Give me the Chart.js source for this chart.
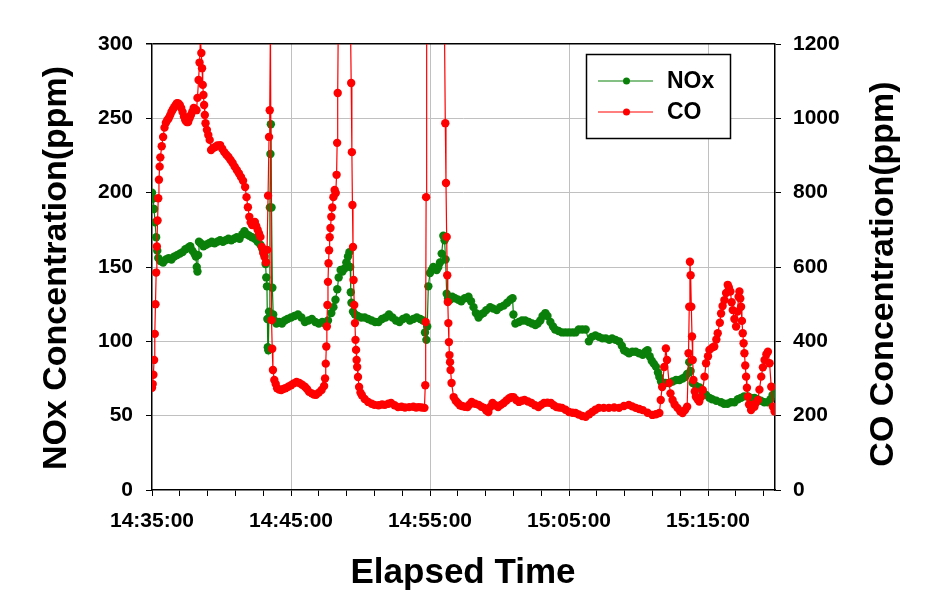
<!DOCTYPE html>
<html>
<head>
<meta charset="utf-8">
<script src="https://cdn.jsdelivr.net/npm/chart.js@4.4.1/dist/chart.umd.min.js"></script>
<style>
  html, body { margin: 0; padding: 0; background: #fff; }
  #wrap { width: 929px; height: 606px; }
</style>
</head>
<body>
<div id="wrap"><canvas id="emissionChart" width="929" height="606"></canvas></div>
<script>
// --- Data (time in minutes after 14:35:00) ---
const xTickLabels = ['14:35:00', '14:45:00', '14:55:00', '15:05:00', '15:15:00'];
const seriesNames = ['NOx', 'CO'];

const noxTime = [0,0.08,0.15,0.22,0.3,0.38,0.45,0.6,0.8,1.0,1.2,1.4,1.6,1.8,2.0,2.2,2.4,2.6,2.75,2.9,3.05,3.15,3.22,3.27,3.32,3.38,3.5,3.7,3.9,4.1,4.3,4.5,4.7,4.9,5.1,5.3,5.5,5.7,5.9,6.1,6.3,6.5,6.65,6.8,7.0,7.2,7.4,7.6,7.8,7.95,8.08,8.17,8.22,8.27,8.3,8.33,8.37,8.42,8.48,8.52,8.55,8.6,8.66,8.72,8.8,8.95,9.15,9.35,9.55,9.75,10.0,10.25,10.5,10.75,11.0,11.25,11.5,11.75,12.0,12.25,12.45,12.66,12.9,13.05,13.2,13.33,13.43,13.57,13.7,13.85,13.98,14.1,14.2,14.26,14.3,14.35,14.46,14.6,14.8,15.05,15.3,15.55,15.8,16.05,16.3,16.55,16.8,17.05,17.3,17.55,17.8,18.05,18.3,18.55,18.8,19.05,19.3,19.5,19.64,19.74,19.8,19.88,20.0,20.12,20.24,20.36,20.48,20.6,20.72,20.84,20.96,21.05,21.12,21.2,21.3,21.44,21.6,21.8,22.04,22.25,22.5,22.77,22.95,23.13,23.3,23.49,23.65,23.85,24.05,24.33,24.55,24.8,25.05,25.3,25.55,25.78,25.94,26.0,26.14,26.4,26.62,26.85,27.1,27.35,27.58,27.75,27.94,28.1,28.3,28.45,28.66,28.85,29.0,29.25,29.5,29.75,30.0,30.25,30.47,30.7,30.95,31.2,31.43,31.65,31.9,32.15,32.4,32.65,32.9,33.1,33.35,33.6,33.8,33.96,34.15,34.32,34.55,34.8,35.05,35.3,35.5,35.65,35.8,35.95,36.1,36.25,36.4,36.5,36.62,36.73,36.95,37.2,37.45,37.7,37.95,38.17,38.35,38.5,38.65,38.75,38.9,39.15,39.4,39.62,39.86,40.1,40.3,40.6,40.94,41.15,41.4,41.65,41.9,42.15,42.38,42.6,42.87,43.1,43.34,43.55,43.8,44.05,44.3,44.5,44.65,44.8];
const noxValue = [200,196,189,180,170,161,156,154,153,155,156,155,157,158,159,160,162,163,164,161,159,157,150,147,158,167,166,164,165,166,167,166,167,168,167,168,169,168,169,170,169,172,174,172,171,170,169,167,165,162,158,152,143,137,115,96,94,120,190,226,246,190,136,118,114,112,113,112,114,115,116,117,118,116,113,114,115,113,112,113,112,114,119,123,128,135,143,148,147,149,153,157,160,150,133,126,120,118,117,116,116,115,114,113,113,115,116,118,116,114,113,115,116,114,115,116,115,114,106,101,110,137,146,148,150,149,148,150,153,159,171,168,155,132,129,128,130,129,128,127,129,130,127,123,119,116,118,119,121,123,122,121,123,124,126,128,129,118,112,113,114,114,113,112,111,112,114,117,119,117,113,110,108,107,106,106,106,106,106,108,108,108,100,103,104,103,102,102,101,102,101,100,97,94,93,92,93,93,92,91,93,94,90,87,85,83,79,76,73,72,72,72,73,74,74,75,76,78,86,80,72,70,69,66,64,62,61,60,59,58,58,59,59,61,62,63,63,62,62,61,60,59,59,61,64,69];

const coTime = [0,0.05,0.1,0.15,0.2,0.25,0.3,0.35,0.4,0.45,0.5,0.55,0.6,0.7,0.8,0.9,1.0,1.1,1.2,1.3,1.4,1.5,1.6,1.7,1.8,1.9,2.0,2.1,2.2,2.3,2.4,2.5,2.6,2.7,2.8,2.9,3.0,3.1,3.2,3.27,3.35,3.42,3.48,3.55,3.6,3.65,3.7,3.75,3.8,3.85,3.95,4.05,4.15,4.25,4.4,4.55,4.7,4.9,5.05,5.2,5.35,5.5,5.65,5.8,5.95,6.1,6.25,6.4,6.55,6.7,6.8,6.9,7.0,7.1,7.2,7.3,7.4,7.5,7.6,7.7,7.8,7.9,8.0,8.1,8.2,8.28,8.35,8.42,8.47,8.52,8.6,8.65,8.7,8.8,8.9,9.0,9.15,9.3,9.45,9.6,9.8,10.0,10.2,10.4,10.6,10.8,11.0,11.15,11.3,11.5,11.65,11.8,12.0,12.2,12.38,12.45,12.5,12.54,12.58,12.62,12.66,12.7,12.74,12.78,12.84,12.9,12.97,13.05,13.14,13.22,13.28,13.32,13.36,13.4,13.7,14.0,14.28,14.33,14.38,14.42,14.46,14.5,14.55,14.6,14.64,14.68,14.72,14.76,14.82,14.9,15.0,15.1,15.3,15.55,15.8,16.0,16.3,16.55,16.75,17.0,17.2,17.45,17.7,17.95,18.2,18.5,18.8,19.0,19.2,19.4,19.6,19.66,19.69,19.72,19.76,20.4,21.04,21.1,21.15,21.2,21.24,21.28,21.32,21.36,21.4,21.44,21.48,21.55,21.7,21.85,22.0,22.15,22.3,22.5,22.7,22.85,23.0,23.25,23.5,23.7,23.9,24.05,24.2,24.35,24.5,24.7,24.9,25.1,25.3,25.5,25.7,25.85,26.0,26.2,26.4,26.6,26.8,27.05,27.3,27.55,27.8,28.0,28.2,28.45,28.7,28.9,29.1,29.3,29.5,29.75,30.0,30.25,30.47,30.7,30.95,31.2,31.45,31.67,31.9,32.15,32.5,32.87,33.25,33.6,33.95,34.3,34.55,34.8,35.05,35.3,35.65,36.0,36.25,36.5,36.6,36.7,36.85,36.97,37.05,37.2,37.3,37.45,37.6,37.8,38.0,38.17,38.35,38.5,38.6,38.65,38.7,38.75,38.8,38.85,38.9,38.95,39.05,39.13,39.25,39.37,39.5,39.62,39.75,39.86,40.0,40.1,40.3,40.45,40.6,40.7,40.85,40.94,41.05,41.18,41.3,41.42,41.5,41.61,41.7,41.78,41.9,42.02,42.12,42.2,42.26,42.32,42.38,42.44,42.5,42.56,42.62,42.68,42.74,42.8,42.87,42.95,43.1,43.22,43.34,43.45,43.59,43.7,43.83,43.95,44.07,44.2,44.31,44.43,44.55,44.67,44.79];
const coValue = [275,285,310,350,420,500,585,655,725,785,835,870,895,925,950,975,988,995,1000,1008,1017,1024,1030,1036,1041,1040,1036,1028,1017,1005,995,990,990,1000,1009,1018,1028,1025,1022,1055,1103,1150,1210,1176,1135,1090,1063,1036,1009,987,969,955,942,915,920,923,927,928,918,909,902,896,888,880,870,861,852,842,832,815,788,761,735,720,713,718,721,710,700,690,681,654,638,627,613,646,792,950,1022,1250,457,380,323,296,285,274,270,269,272,274,278,282,287,291,288,283,278,272,264,260,257,256,262,269,280,300,340,386,440,498,560,610,645,680,705,735,760,788,807,799,848,934,1068,1250,1500,1500,1250,1095,909,767,654,565,498,449,404,377,350,331,304,277,262,255,245,237,232,229,228,230,229,232,234,228,223,224,222,223,224,222,223,222,221,282,452,788,1250,1500,1250,987,826,681,578,506,449,398,363,344,323,288,250,240,234,228,226,224,223,230,237,232,229,224,221,214,210,224,234,228,223,229,234,241,247,250,250,242,237,240,242,238,234,228,223,229,234,235,234,228,223,222,221,216,210,208,207,203,199,197,204,210,216,221,221,221,222,221,226,229,225,221,218,215,208,202,204,207,242,277,331,381,350,288,260,242,230,221,212,207,215,224,368,493,614,578,493,413,350,296,265,251,244,238,250,269,305,341,360,377,383,386,405,422,450,475,495,511,530,552,545,534,505,484,460,440,480,520,534,515,493,455,422,395,368,335,305,275,251,230,215,228,224,235,242,270,305,330,350,365,372,341,278,224,211];

const noxColor = '#0a800a';
const coColor = '#ff0000';
const fontFamily = 'Arial, "Liberation Sans", sans-serif';

function toPoints(times, values) {
  return times.map((t, i) => ({ x: t, y: values[i] }));
}

// --- Titles and in-plot legend ---
const decorPlugin = {
  id: 'decor',
  afterDraw(chart) {
    const ctx = chart.ctx;
    ctx.save();
    ctx.fillStyle = '#000';
    ctx.textAlign = 'center';
    ctx.textBaseline = 'middle';
    ctx.font = 'bold 34px ' + fontFamily;

    ctx.save();
    ctx.translate(57, 268);
    ctx.rotate(-Math.PI / 2);
    ctx.fillText('NOx Concentration(ppm)', 0, 0);
    ctx.restore();

    ctx.save();
    ctx.translate(884, 274);
    ctx.rotate(-Math.PI / 2);
    ctx.fillText('CO Concentration(ppm)', 0, 0);
    ctx.restore();

    ctx.font = 'bold 35px ' + fontFamily;
    ctx.fillText('Elapsed Time', 463, 573);

    // legend box
    ctx.fillStyle = '#fff';
    ctx.fillRect(586.5, 54.5, 144, 84);
    ctx.strokeStyle = '#000';
    ctx.lineWidth = 1.5;
    ctx.strokeRect(586.5, 54.5, 144, 84);
    const rows = [[seriesNames[0], noxColor, 81], [seriesNames[1], coColor, 112]];
    rows.forEach(([name, color, y]) => {
      ctx.strokeStyle = color;
      ctx.lineWidth = 1.2;
      ctx.beginPath();
      ctx.moveTo(598, y);
      ctx.lineTo(653, y);
      ctx.stroke();
      ctx.fillStyle = color;
      ctx.beginPath();
      ctx.arc(626.5, y, 3.5, 0, Math.PI * 2);
      ctx.fill();
      ctx.fillStyle = '#000';
      ctx.textAlign = 'left';
      ctx.font = 'bold 23px ' + fontFamily;
      ctx.fillText(name, 667, y + 1);
    });
    ctx.restore();
  }
};

const tickFont = { family: fontFamily, size: 21, weight: 'bold' };

const chart = new Chart(document.getElementById('emissionChart'), {
  type: 'line',
  data: {
    datasets: [
      {
        label: seriesNames[0], data: toPoints(noxTime, noxValue), yAxisID: 'y', order: 2,
        borderColor: noxColor, backgroundColor: noxColor, borderWidth: 1.2,
        pointRadius: 4.2, pointBorderWidth: 0, pointBackgroundColor: noxColor, tension: 0
      },
      {
        label: seriesNames[1], data: toPoints(coTime, coValue), yAxisID: 'y1', order: 1,
        borderColor: coColor, backgroundColor: coColor, borderWidth: 1.2,
        pointRadius: 4.2, pointBorderWidth: 0, pointBackgroundColor: coColor, tension: 0
      }
    ]
  },
  options: {
    responsive: false,
    animation: false,
    devicePixelRatio: 1,
    layout: { padding: { top: 44, left: 0, right: 0, bottom: 0 } },
    plugins: { legend: { display: false }, title: { display: false }, tooltip: { enabled: false } },
    scales: {
      x: {
        type: 'linear', min: 0, max: 44.82,
        afterFit: s => { s.height = 116; },
        ticks: {
          stepSize: 2, includeBounds: false, autoSkip: false, maxRotation: 0,
          padding: 13, color: '#000', font: tickFont,
          callback: v => (v % 10 === 0 ? xTickLabels[v / 10] : '')
        },
        grid: {
          color: c => (c.tick && c.tick.value % 10 === 0 && c.tick.value > 0) ? '#c0c0c0' : 'rgba(0,0,0,0)',
          tickColor: '#000', tickLength: 6, lineWidth: 1
        },
        border: { display: true, color: '#000', width: 1.5 }
      },
      y: {
        position: 'left', min: 0, max: 300,
        afterFit: s => { s.width = 152; },
        ticks: { stepSize: 50, padding: 13, color: '#000', font: tickFont, callback: v => String(v) },
        grid: {
          color: c => c.tick.value === 300 ? '#000' : (c.tick.value === 0 ? 'rgba(0,0,0,0)' : '#c0c0c0'),
          lineWidth: c => c.tick.value === 300 ? 1.5 : 1,
          tickColor: '#000', tickLength: 6
        },
        border: { display: true, color: '#000', width: 1.5 }
      },
      y1: {
        position: 'right', min: 0, max: 1200,
        afterFit: s => { s.width = 154; },
        ticks: { stepSize: 200, padding: 12, color: '#000', font: tickFont, callback: v => String(v) },
        grid: { drawOnChartArea: false, tickColor: '#000', tickLength: 6 },
        border: { display: true, color: '#000', width: 1.5 }
      }
    }
  },
  plugins: [decorPlugin]
});
</script>
</body>
</html>
